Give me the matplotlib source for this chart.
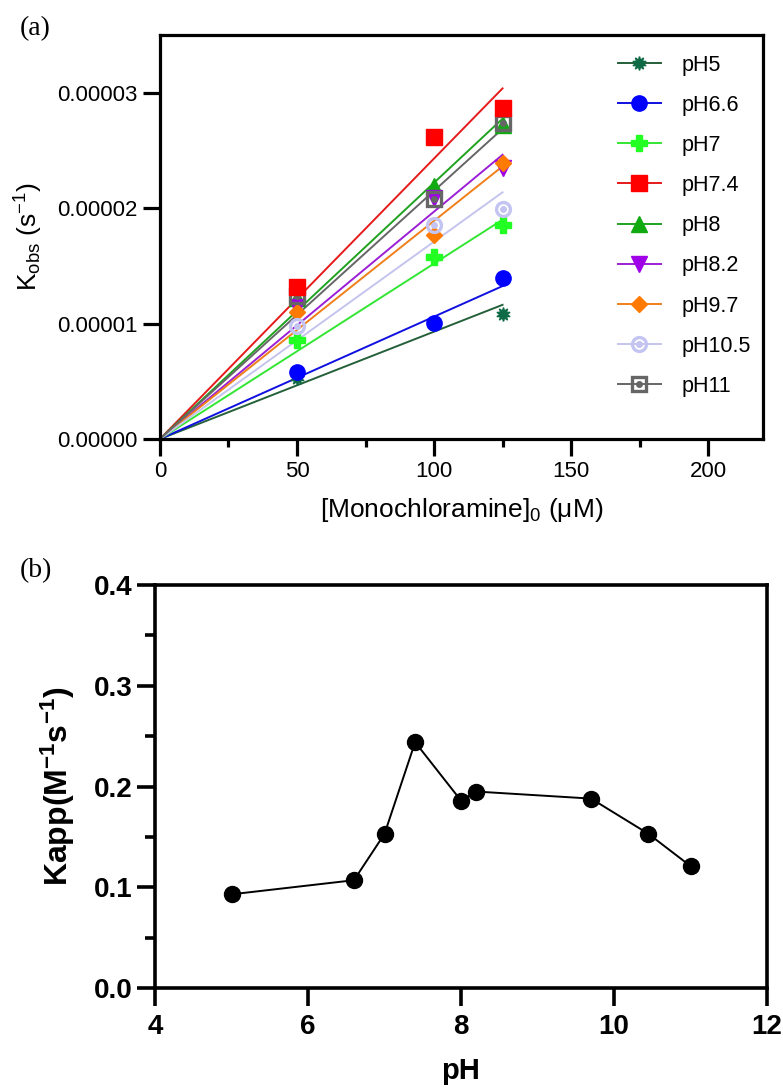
import numpy as np
import matplotlib
matplotlib.use('Agg')
import matplotlib.pyplot as plt
from matplotlib.legend_handler import HandlerTuple

plt.rcParams['font.family'] = ['Liberation Sans', 'DejaVu Sans']
plt.rcParams['mathtext.fontset'] = 'custom'
plt.rcParams['mathtext.rm'] = 'Liberation Sans'
plt.rcParams['mathtext.it'] = 'Liberation Sans:italic'
plt.rcParams['mathtext.bf'] = 'Liberation Sans:bold'

# (a) kobs vs monochloramine concentration
conc = [50, 100, 125]
ph_labels = ['pH5', 'pH6.6', 'pH7', 'pH7.4', 'pH8', 'pH8.2', 'pH9.7', 'pH10.5', 'pH11']
kobs_ph5 = [0.53e-5, 1.00e-5, 1.086e-5]
kobs_ph66 = [0.584e-5, 1.005e-5, 1.394e-5]
kobs_ph7 = [0.86e-5, 1.576e-5, 1.855e-5]
kobs_ph74 = [1.317e-5, 2.62e-5, 2.865e-5]
kobs_ph8 = [1.22e-5, 2.19e-5, 2.72e-5]
kobs_ph82 = [1.14e-5, 2.09e-5, 2.346e-5]
kobs_ph97 = [1.10e-5, 1.77e-5, 2.39e-5]
kobs_ph105 = [0.976e-5, 1.855e-5, 1.99e-5]
kobs_ph11 = [1.24e-5, 2.08e-5, 2.735e-5]
# fitted slopes through origin (s-1 per uM)
fit_slopes = [0.93e-7, 1.06e-7, 1.52e-7, 2.43e-7, 2.22e-7, 1.97e-7, 1.89e-7, 1.71e-7, 2.15e-7]
fit_x = [0, 125]

# (b) Kapp vs pH
ph_vals = [5, 6.6, 7, 7.4, 8, 8.2, 9.7, 10.45, 11]
kapp = [0.093, 0.107, 0.153, 0.244, 0.186, 0.195, 0.188, 0.153, 0.121]

all_kobs = [kobs_ph5, kobs_ph66, kobs_ph7, kobs_ph74, kobs_ph8,
            kobs_ph82, kobs_ph97, kobs_ph105, kobs_ph11]
line_colors = ['#24603a', '#1010e0', '#33e633', '#e61a1a', '#1fa31f',
               '#9b1fd6', '#f07f1a', '#c4c4ee', '#666666']
mk_colors = ['#0e6b45', '#0000ff', '#22ff22', '#ff0000', '#11aa11',
             '#a000e8', '#ff7a00', '#c4c4f2', '#666666']
markers = [(10, 1, 0), 'o', 'P', 's', '^', 'v', 'D', 'o', 's']
msizes = [10, 11, 11, 11, 11, 11, 8, 11, 11]

fig = plt.figure(figsize=(7.83, 10.88), dpi=100)
ax1 = fig.add_axes([0.2043, 0.5965, 0.770, 0.3713])
ax2 = fig.add_axes([0.198, 0.0919, 0.7816, 0.3704])

handles = []
for i, lab in enumerate(ph_labels):
    fy = [fit_slopes[i] * x for x in fit_x]
    ln, = ax1.plot(fit_x, fy, '-', color=line_colors[i], lw=1.4, zorder=2)
    z = 4 if lab == 'pH7.4' else 3
    if lab in ('pH10.5', 'pH11'):
        m, = ax1.plot(conc, all_kobs[i], linestyle='none', marker=markers[i],
                      ms=msizes[i] - 1, mfc='none', mec=mk_colors[i], mew=2.4, zorder=z)
        d, = ax1.plot(conc, all_kobs[i], linestyle='none', marker='o', ms=4,
                      color=mk_colors[i], zorder=z)
        handles.append((ln, m, d))
    else:
        m, = ax1.plot(conc, all_kobs[i], linestyle='none', marker=markers[i],
                      ms=msizes[i], color=mk_colors[i], mec=mk_colors[i], zorder=z)
        handles.append((ln, m))

ax1.set_xlim(0, 220)
ax1.set_ylim(0, 3.5e-5)
ax1.set_xticks([0, 50, 100, 150, 200])
ax1.set_xticks([25, 75, 125, 175], minor=True)
ax1.set_yticks([0, 1e-5, 2e-5, 3e-5])
ax1.set_yticklabels(['0.00000', '0.00001', '0.00002', '0.00003'])
for s in ax1.spines.values():
    s.set_linewidth(2.3)
ax1.tick_params(which='major', length=12, width=2.3, labelsize=16, pad=4)
ax1.tick_params(which='minor', length=6, width=2.3)
ax1.set_xlabel(r'[Monochloramine]$_{0}$ ($\mathrm{\mu}$M)', fontsize=19)
ax1.xaxis.set_label_coords(0.5, -0.142)
ax1.set_ylabel(r'K$_{\mathrm{obs}}$ (s$^{-1}$)', fontsize=19)
ax1.yaxis.set_label_coords(-0.19, 0.5)

leg = ax1.legend(handles, ph_labels, handler_map={tuple: HandlerTuple(ndivide=1)},
                 loc='upper left', bbox_to_anchor=(0.745, 0.973), frameon=False,
                 fontsize=15.5, labelspacing=0.89, handlelength=2.0,
                 handletextpad=0.95, borderaxespad=0)

ax2.plot(ph_vals, kapp, '-', color='black', lw=1.4, marker='o', ms=11.5,
         mfc='black', mec='black')
ax2.set_xlim(4, 12)
ax2.set_ylim(0, 0.4)
ax2.set_xticks([4, 6, 8, 10, 12])
ax2.set_yticks([0.0, 0.1, 0.2, 0.3, 0.4])
ax2.set_yticklabels(['0.0', '0.1', '0.2', '0.3', '0.4'])
ax2.set_yticks([0.05, 0.15, 0.25, 0.35], minor=True)
for s in ax2.spines.values():
    s.set_linewidth(2.6)
ax2.tick_params(which='major', length=13, width=2.6, labelsize=20, pad=3)
ax2.tick_params(axis='x', which='major', pad=6)
ax2.tick_params(which='minor', length=7, width=2.6)
for t in ax2.get_xticklabels() + ax2.get_yticklabels():
    t.set_fontweight('bold')
ax2.set_xlabel('pH', fontsize=21, fontweight='bold')
ax2.xaxis.set_label_coords(0.5, -0.17)
ax2.set_ylabel(r'Kapp(M$^{\mathbf{-1}}$s$^{\mathbf{-1}}$)', fontsize=23, fontweight='bold')
ax2.yaxis.set_label_coords(-0.128, 0.5)

fig.text(0.025, 0.974, '(a)', family='Liberation Serif', fontsize=20, va='center')
fig.text(0.025, 0.476, '(b)', family='Liberation Serif', fontsize=20, va='center')

fig.savefig('out.png', dpi=100)
